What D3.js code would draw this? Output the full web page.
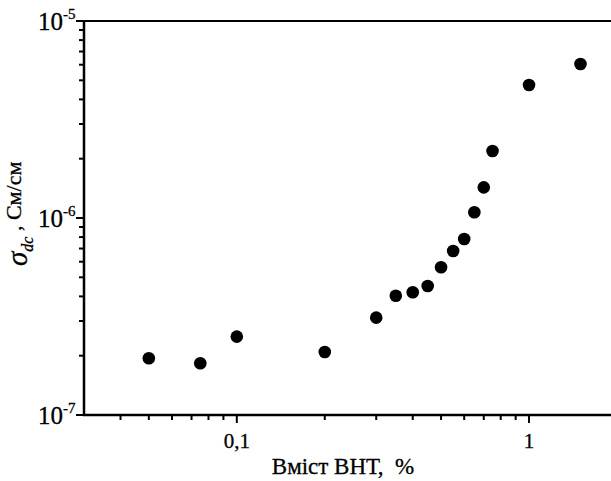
<!DOCTYPE html>
<html>
<head>
<meta charset="utf-8">
<script src="https://cdn.jsdelivr.net/npm/d3@7"></script>
<style>
  body { margin: 0; background: #fff; }
</style>
</head>
<body>
<svg id="chart"></svg>
<script>
const width = 611, height = 481;
// BHT content, %
const content = [0.05, 0.075, 0.1, 0.2, 0.3, 0.35, 0.4, 0.45, 0.5, 0.55, 0.6, 0.65, 0.7, 0.75, 1.0, 1.5];
// sigma dc, S/cm
const sigma = [1.94e-7, 1.83e-7, 2.50e-7, 2.09e-7, 3.12e-7, 4.03e-7, 4.20e-7, 4.52e-7,
               5.62e-7, 6.80e-7, 7.82e-7, 1.07e-6, 1.43e-6, 2.19e-6, 4.73e-6, 6.05e-6];
const xMajor = [0.1, 1];
const xMajorLabels = ['0,1', '1'];
const xMinor = [0.04, 0.05, 0.06, 0.07, 0.08, 0.09, 0.2, 0.3, 0.4, 0.5, 0.6, 0.7, 0.8, 0.9];
const yMajor = [1e-7, 1e-6, 1e-5];
const yExp = ['-7', '-6', '-5'];
const yMinor = [2e-7, 3e-7, 4e-7, 5e-7, 6e-7, 7e-7, 8e-7, 9e-7,
                2e-6, 3e-6, 4e-6, 5e-6, 6e-6, 7e-6, 8e-6, 9e-6];

const serif = 'Liberation Serif';
const svg = d3.select('#chart').attr('width', width).attr('height', height);
const x = d3.scaleLog().domain([0.03, 2]).range([84, 617]);
const y = d3.scaleLog().domain([1e-7, 1e-5]).range([415, 21]);

// frame: top line
svg.append('line').attr('x1', x(0.03)).attr('x2', x(2)).attr('y1', y(1e-5)).attr('y2', y(1e-5))
  .attr('stroke', '#000').attr('stroke-width', 2);

// x axis
const gx = svg.append('g').attr('transform', `translate(0,${y(1e-7)})`);
gx.append('line').attr('x1', x(0.03) - 1).attr('x2', x(2)).attr('stroke', '#000').attr('stroke-width', 2.5);
gx.selectAll('.mj').data(xMajor).join('line')
  .attr('x1', d => x(d)).attr('x2', d => x(d)).attr('y1', 0).attr('y2', 8)
  .attr('stroke', '#000').attr('stroke-width', 2);
gx.selectAll('.mn').data(xMinor).join('line')
  .attr('x1', d => x(d)).attr('x2', d => x(d)).attr('y1', 0).attr('y2', 5)
  .attr('stroke', '#000').attr('stroke-width', 2);
gx.selectAll('text').data(xMajor).join('text')
  .attr('x', d => x(d)).attr('y', 33).attr('text-anchor', 'middle')
  .attr('font-family', serif).attr('font-size', 21).attr('stroke', '#000').attr('stroke-width', 0.3)
  .text((d, i) => xMajorLabels[i]);

// y axis
const gy = svg.append('g').attr('transform', `translate(${x(0.03)},0)`);
gy.append('line').attr('y1', y(1e-5) - 1).attr('y2', y(1e-7) + 1).attr('stroke', '#000').attr('stroke-width', 2.5);
gy.selectAll('.mj').data(yMajor).join('line')
  .attr('y1', d => y(d)).attr('y2', d => y(d)).attr('x1', 0).attr('x2', -8)
  .attr('stroke', '#000').attr('stroke-width', 2);
gy.selectAll('.mn').data(yMinor).join('line')
  .attr('y1', d => y(d)).attr('y2', d => y(d)).attr('x1', 0).attr('x2', -5)
  .attr('stroke', '#000').attr('stroke-width', 2);
const yl = gy.selectAll('text').data(yMajor).join('text')
  .attr('x', -46).attr('y', d => y(d) + 9).attr('text-anchor', 'start')
  .attr('font-family', serif).attr('font-size', 25).attr('stroke', '#000').attr('stroke-width', 0.3);
yl.append('tspan').text('10');
yl.append('tspan').attr('font-size', 15).attr('dy', -11).text((d, i) => yExp[i]);

// points
svg.selectAll('circle').data(content).join('circle')
  .attr('cx', d => x(d)).attr('cy', (d, i) => y(sigma[i])).attr('r', 6.3).attr('fill', '#000');

// axis titles
svg.append('text').attr('x', 343).attr('y', 474).attr('text-anchor', 'middle')
  .attr('font-family', serif).attr('font-size', 23).attr('stroke', '#000').attr('stroke-width', 0.3)
  .attr('xml:space', 'preserve').text('Вміст ВНТ,  %');

const yt = svg.append('text').attr('transform', 'translate(21,266) rotate(-90)')
  .attr('font-family', serif).attr('font-size', 22).attr('stroke', '#000').attr('stroke-width', 0.3);
yt.append('tspan').attr('font-style', 'italic').attr('font-size', 29).attr('dy', 6).text('σ');
yt.append('tspan').attr('font-style', 'italic').attr('font-size', 16).attr('dy', 6).text('dc');
yt.append('tspan').attr('dy', -12).attr('xml:space', 'preserve').text(' , См/см');
</script>
</body>
</html>
